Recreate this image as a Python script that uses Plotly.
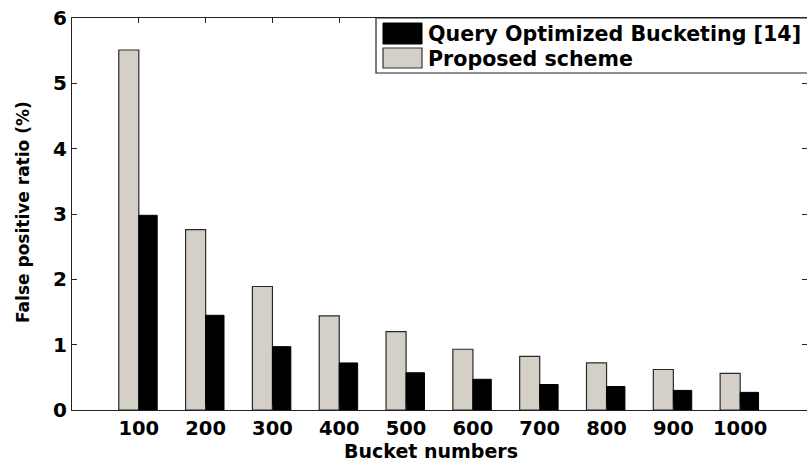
import plotly.graph_objects as go

# ---- data ----
bucket_labels = ["100", "200", "300", "400", "500", "600", "700", "800", "900", "1000"]
proposed_scheme = [5.51, 2.76, 1.89, 1.44, 1.20, 0.93, 0.82, 0.72, 0.62, 0.56]
query_optimized = [2.98, 1.45, 0.97, 0.72, 0.57, 0.47, 0.39, 0.36, 0.30, 0.27]
name_query = "Query Optimized Bucketing [14]"
name_proposed = "Proposed scheme"
y_ticks = [0, 1, 2, 3, 4, 5, 6]

W, H = 807, 463
ML, MR, MT, MB = 72, 0, 18, 53
PW, PH = W - ML - MR, H - MT - MB

GRAY = "#d4d0c8"
FONT = "DejaVu Sans"

fig = go.Figure()
fig.add_trace(go.Bar(
    x=bucket_labels, y=proposed_scheme, name=name_proposed,
    marker=dict(color=GRAY, line=dict(color="#2a2a2a", width=1.2)),
    width=0.30, offset=-0.30, showlegend=False,
))
fig.add_trace(go.Bar(
    x=bucket_labels, y=query_optimized, name=name_query,
    marker=dict(color="black", line=dict(color="black", width=1)),
    width=0.275, offset=0.0, showlegend=False,
))

def px_x(px):
    return (px - ML) / PW

def px_y(py):
    return (H - MB - py) / PH

shapes = [
    # legend box
    dict(type="rect", xref="paper", yref="paper",
         x0=px_x(376), x1=px_x(812), y0=px_y(73), y1=px_y(18),
         line=dict(color="#222", width=1.2), fillcolor="white", layer="above"),
    dict(type="rect", xref="paper", yref="paper",
         x0=px_x(383), x1=px_x(422), y0=px_y(44), y1=px_y(23),
         line=dict(color="black", width=1), fillcolor="black", layer="above"),
    dict(type="rect", xref="paper", yref="paper",
         x0=px_x(383), x1=px_x(422), y0=px_y(68), y1=px_y(48),
         line=dict(color="#333", width=1.2), fillcolor=GRAY, layer="above"),
]
annotations = [
    dict(text=name_query, xref="paper", yref="paper", x=px_x(426), y=px_y(33.5),
         xanchor="left", yanchor="middle", showarrow=False,
         font=dict(family=FONT, size=20.6, color="black", weight="bold")),
    dict(text=name_proposed, xref="paper", yref="paper", x=px_x(426), y=px_y(58.5),
         xanchor="left", yanchor="middle", showarrow=False,
         font=dict(family=FONT, size=20.6, color="black", weight="bold")),
    dict(text="Bucket numbers", xref="paper", yref="paper", x=px_x(431), y=px_y(451),
         xanchor="center", yanchor="middle", showarrow=False,
         font=dict(family=FONT, size=19, color="black", weight="bold")),
    dict(text="False positive ratio (%)", xref="paper", yref="paper", x=px_x(23), y=px_y(212),
         xanchor="center", yanchor="middle", showarrow=False, textangle=-90,
         font=dict(family=FONT, size=17, color="black", weight="bold")),
]

fig.update_layout(
    width=W, height=H,
    margin=dict(l=ML, r=MR, t=MT, b=MB, pad=0),
    paper_bgcolor="white", plot_bgcolor="white",
    barmode="overlay",
    shapes=shapes, annotations=annotations,
    font=dict(family=FONT, color="black"),
    xaxis=dict(
        type="category", range=[-1, 10],
        showline=True, linecolor="#222", linewidth=1.2, mirror="ticks",
        ticks="inside", ticklen=5, tickcolor="#222", tickwidth=1,
        showgrid=False, zeroline=False,
        tickfont=dict(family=FONT, size=19.5, color="black", weight="bold"),
        ticklabelstandoff=0,
    ),
    yaxis=dict(
        range=[0, 6], tickvals=y_ticks,
        showline=True, linecolor="#222", linewidth=1.2, mirror="ticks",
        ticks="inside", ticklen=5, tickcolor="#222", tickwidth=1,
        showgrid=False, zeroline=False,
        tickfont=dict(family=FONT, size=20, color="black", weight="bold"),
    ),
)

fig.write_html("out.html", config={"displayModeBar": False},
               post_script="document.body.style.margin='0';document.body.style.overflow='hidden';")
